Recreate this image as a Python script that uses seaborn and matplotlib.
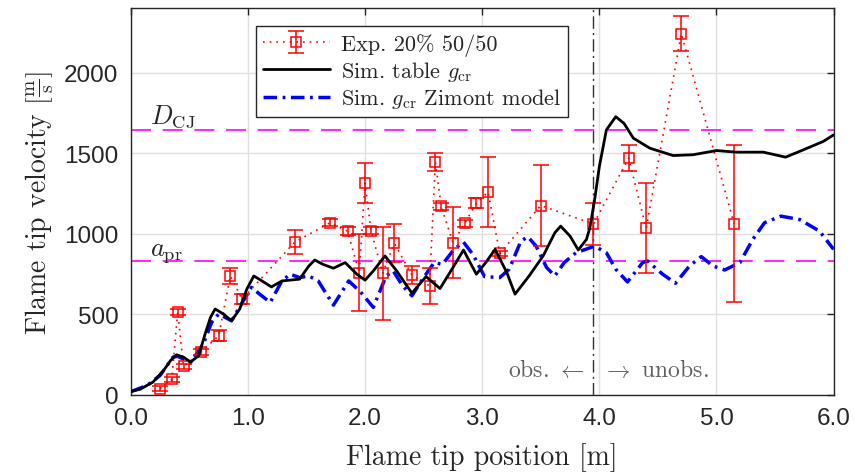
import numpy as np
import pandas as pd
import matplotlib
matplotlib.use("Agg")
import matplotlib.pyplot as plt
import seaborn as sns

# ---------------- data ----------------
exp_x = [0.25, 0.35, 0.40, 0.45, 0.60, 0.75, 0.85, 0.95, 1.40, 1.70, 1.85, 1.95,
         2.00, 2.05, 2.15, 2.25, 2.40, 2.55, 2.60, 2.65, 2.75, 2.85, 2.95, 3.05,
         3.15, 3.50, 3.95, 4.25, 4.40, 4.70, 5.15]
exp_v = [39, 96, 516, 177, 265, 368, 738, 594, 948, 1068, 1016, 759,
         1315, 1020, 755, 940, 743, 677, 1444, 1170, 944, 1064, 1191, 1259,
         878, 1175, 1060, 1469, 1035, 2241, 1062]
exp_err = [15, 15, 20, 15, 20, 35, 50, 31, 75, 23, 24, 241,
           123, 20, 288, 118, 57, 110, 57, 20, 221, 20, 29, 217,
           15, 252, 130, 80, 279, 109, 487]

tab_x = [0.00, 0.08, 0.19, 0.28, 0.34, 0.39, 0.45, 0.51, 0.58, 0.63, 0.68, 0.72,
         0.79, 0.86, 0.93, 0.99, 1.05, 1.12, 1.20, 1.29, 1.44, 1.52, 1.57, 1.64,
         1.73, 1.83, 1.93, 2.00, 2.07, 2.17, 2.27, 2.40, 2.52, 2.64, 2.75, 2.84,
         2.95, 3.03, 3.11, 3.21, 3.28, 3.40, 3.52, 3.62, 3.67, 3.75, 3.82, 3.89,
         3.92, 3.96, 4.00, 4.06, 4.14, 4.21, 4.29, 4.43, 4.63, 4.80, 5.00, 5.17,
         5.40, 5.59, 5.74, 5.91, 6.00]
tab_v = [22, 35, 80, 152, 214, 249, 234, 204, 244, 368, 481, 533,
         502, 460, 533, 656, 738, 707, 670, 707, 718, 800, 837, 810,
         786, 821, 749, 712, 769, 862, 769, 631, 734, 660, 790, 899,
         749, 821, 903, 759, 625, 738, 862, 1006, 1047, 985, 899, 965,
         1040, 1212, 1417, 1644, 1726, 1685, 1593, 1531, 1485, 1490, 1516, 1506,
         1506, 1475, 1520, 1572, 1613]

zim_x = [0.00, 0.14, 0.25, 0.36, 0.40, 0.51, 0.62, 0.69, 0.75, 0.86, 0.96, 1.03,
         1.10, 1.19, 1.29, 1.36, 1.44, 1.52, 1.60, 1.73, 1.86, 1.96, 2.07, 2.18,
         2.24, 2.32, 2.40, 2.49, 2.59, 2.66, 2.76, 2.84, 2.92, 3.02, 3.15, 3.23,
         3.33, 3.39, 3.46, 3.55, 3.62, 3.70, 3.80, 3.96, 4.06, 4.14, 4.24, 4.37,
         4.41, 4.54, 4.65, 4.77, 4.87, 4.97, 5.07, 5.20, 5.31, 5.41, 5.55, 5.71,
         5.88, 6.00]
zim_v = [20, 59, 121, 234, 240, 200, 317, 450, 502, 460, 584, 667,
         625, 574, 707, 749, 728, 738, 707, 557, 707, 640, 543, 738,
         769, 677, 615, 718, 821, 810, 903, 948, 872, 734, 728, 780,
         954, 981, 923, 790, 738, 821, 882, 923, 882, 780, 701, 821,
         831, 749, 693, 800, 858, 800, 775, 821, 965, 1068, 1109, 1088,
         1016, 903]

D_CJ = 1645
a_pr = 830
x_obs = 3.95

labels = ["Exp. 20% 50/50", r"Sim. table $g_{\rm cr}$", r"Sim. $g_{\rm cr}$ Zimont model"]

# ---------------- style ----------------
sns.set_theme(style="white")
plt.rcParams["mathtext.fontset"] = "cm"
plt.rcParams["font.family"] = ["Liberation Sans", "DejaVu Sans"]
plt.rcParams["axes.unicode_minus"] = False
serif = "cmr10"

fig = plt.figure(figsize=(8.55, 4.77), dpi=100)
ax = fig.add_axes([0.153, 0.170, 0.822, 0.811])

df_tab = pd.DataFrame({"x": tab_x, "v": tab_v})
df_zim = pd.DataFrame({"x": zim_x, "v": zim_v})

# reference lines
ax.axhline(D_CJ, color="#ff00ff", lw=1.2, dashes=(12, 7), zorder=1)
ax.axhline(a_pr, color="#ff00ff", lw=1.2, dashes=(12, 7), zorder=1)
ax.axvline(x_obs, color="#303030", lw=1.0, dashes=(9, 3, 1.5, 3), zorder=1)

eb = ax.errorbar(exp_x, exp_v, yerr=exp_err, color="red", lw=1.2,
                 marker="s", ms=6.5, mfc="none", mec="red", mew=1.1,
                 capsize=6, elinewidth=1.1, capthick=1.1, zorder=3,
                 label=labels[0])
eb.lines[0].set_dashes((1, 3))
sns.lineplot(data=df_tab, x="x", y="v", ax=ax, color="black", lw=2.0,
             sort=False, estimator=None, label=labels[1], zorder=4)
sns.lineplot(data=df_zim, x="x", y="v", ax=ax, color="#0000ff", lw=2.5,
             sort=False, estimator=None, label=labels[2], zorder=2)
ax.lines[-1].set_dashes((3.9, 1.6, 0.8, 1.6))

ax.set_xlim(0, 6)
ax.set_ylim(0, 2400)
ax.set_xticks(np.arange(0, 6.01, 1.0))
ax.set_xticklabels([f"{t:.1f}" for t in np.arange(0, 6.01, 1.0)])
ax.set_yticks([0, 500, 1000, 1500, 2000])
ax.tick_params(direction="in", length=5, width=1, top=True, right=True,
               labelsize=17.5, colors="#262626", pad=9)
ax.grid(True, color="#e0e0e0", lw=1.0, zorder=0)
ax.set_axisbelow(True)
for s in ax.spines.values():
    s.set_color("#262626")
    s.set_linewidth(1.0)

ax.set_xlabel("Flame tip position [m]", fontsize=20, family=serif, color="#262626",
              labelpad=9)
ax.set_ylabel(r"Flame tip velocity $\left[\frac{\mathrm{m}}{\mathrm{s}}\right]$",
              fontsize=20, family=serif, color="#262626", labelpad=6)

ax.text(0.16, 1690, r"$D_{\rm CJ}$", fontsize=19, color="#262626")
ax.text(0.16, 870, r"$a_{\rm pr}$", fontsize=19, color="#262626")
ax.text(3.88, 155, r"obs. $\leftarrow$", fontsize=17, family=serif,
        color="#606060", ha="right", va="center")
ax.text(4.02, 155, r"$\rightarrow$ unobs.", fontsize=17, family=serif,
        color="#606060", ha="left", va="center")

handles, labs = ax.get_legend_handles_labels()
hmap = dict(zip(labs, handles))
leg = ax.legend([hmap[l] for l in labels], labels, loc="upper left",
                bbox_to_anchor=(0.163, 0.982),
                frameon=True, fancybox=False, framealpha=1,
                edgecolor="#262626", prop={"family": serif, "size": 16},
                handlelength=3.0, borderpad=0.3, labelspacing=0.15,
                handletextpad=0.5)
leg.get_frame().set_linewidth(1.0)

fig.savefig("out.png", dpi=100)
